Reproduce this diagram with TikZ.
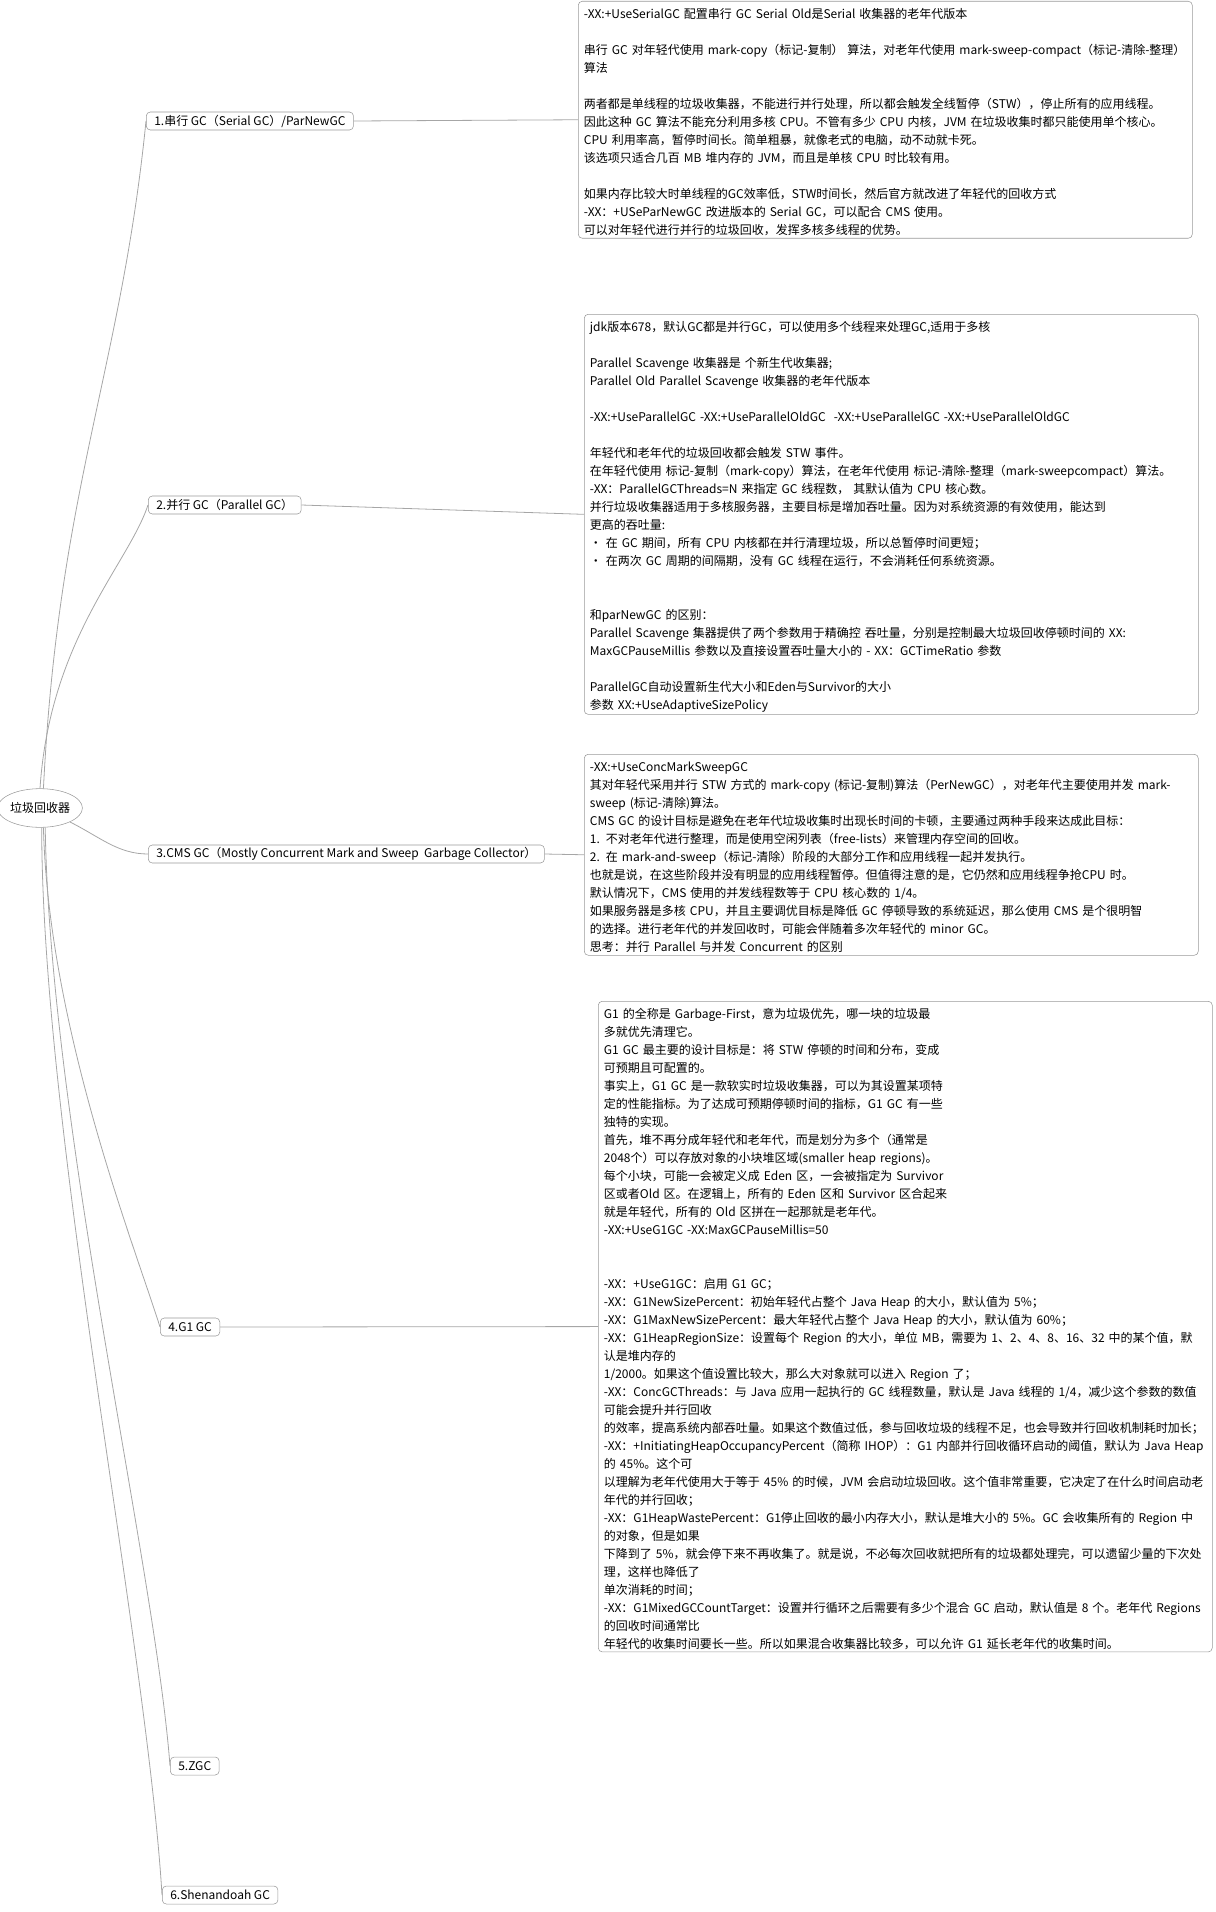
\documentclass[tikz,border=0pt]{standalone}
\usepackage{fontspec}
\setmainfont{Noto Sans CJK SC}
\usetikzlibrary{shapes.geometric,positioning}

\begin{document}
\begin{tikzpicture}[
        x=0.75pt, y=-0.75pt,
        every node/.style={font=\fontsize{9pt}{13.5pt}\selectfont},
        root/.style={ellipse, draw=gray!80, minimum width=59pt, minimum height=29pt, inner sep=0pt},
        topic/.style={rectangle, draw=gray!80, rounded corners=3pt, minimum height=13.5pt, inner xsep=6pt, inner ysep=0pt, anchor=west},
        note/.style={rectangle, draw=gray!80, rounded corners=3pt, text width=452pt, inner xsep=4.25pt, inner ysep=1.5pt, align=left, anchor=north west},
        link/.style={draw=gray!70, line width=0.6pt}
    ]
    \useasboundingbox (0,0) rectangle (1216,1912);

    % root and main branches
    \node[root] (root) at (40,808) {垃圾回收器};
    \node[topic] (serial) at (146,121) {1.串行 GC（Serial GC）/ParNewGC};
    \node[topic] (parallel) at (148,505) {2.并行 GC（Parallel GC）};
    \node[topic] (cms) at (148,854) {3.CMS GC（Mostly Concurrent Mark and Sweep\ \ Garbage Collector）};
    \node[topic] (gone) at (160,1327) {4.G1 GC};
    \node[topic] (zgc) at (170,1766) {5.ZGC};
    \node[topic] (shen) at (162,1895) {6.Shenandoah GC};

    % notes
    \node[note, minimum height=177.75pt] (serialnote) at (578,1) {%
        \rule{0pt}{11.5pt}-XX:+UseSerialGC 配置串行 GC Serial Old是Serial 收集器的老年代版本\\[13.5pt]
        串行 GC 对年轻代使用 mark-copy（标记-复制） 算法，对老年代使用 mark-sweep-compact（标记-清除-整理）\\
        算法\\[13.5pt]
        两者都是单线程的垃圾收集器，不能进行并行处理，所以都会触发全线暂停（STW），停止所有的应用线程。\\
        因此这种 GC 算法不能充分利用多核 CPU。不管有多少 CPU 内核，JVM 在垃圾收集时都只能使用单个核心。\\
        CPU 利用率高，暂停时间长。简单粗暴，就像老式的电脑，动不动就卡死。\\
        该选项只适合几百 MB 堆内存的 JVM，而且是单核 CPU 时比较有用。\\[13.5pt]
        如果内存比较大时单线程的GC效率低，STW时间长，然后官方就改进了年轻代的回收方式\\
        -XX：+USeParNewGC 改进版本的 Serial GC，可以配合 CMS 使用。\\
        可以对年轻代进行并行的垃圾回收，发挥多核多线程的优势。};

    \node[note, minimum height=297.75pt] (parallelnote) at (584,314) {%
        \rule{0pt}{11.5pt}jdk版本678，默认GC都是并行GC，可以使用多个线程来处理GC,适用于多核\\[13.5pt]
        Parallel Scavenge 收集器是 个新生代收集器;\\
        Parallel Old Parallel Scavenge 收集器的老年代版本\\[13.5pt]
        -XX:+UseParallelGC -XX:+UseParallelOldGC\ \ -XX:+UseParallelGC -XX:+UseParallelOldGC\\[13.5pt]
        年轻代和老年代的垃圾回收都会触发 STW 事件。\\
        在年轻代使用 标记-复制（mark-copy）算法，在老年代使用 标记-清除-整理（mark-sweepcompact）算法。\\
        -XX：ParallelGCThreads=N 来指定 GC 线程数， 其默认值为 CPU 核心数。\\
        并行垃圾收集器适用于多核服务器，主要目标是增加吞吐量。因为对系统资源的有效使用，能达到\\
        更高的吞吐量:\\
        • 在 GC 期间，所有 CPU 内核都在并行清理垃圾，所以总暂停时间更短；\\
        • 在两次 GC 周期的间隔期，没有 GC 线程在运行，不会消耗任何系统资源。\\[27pt]
        和parNewGC 的区别：\\
        Parallel Scavenge 集器提供了两个参数用于精确控 吞吐量，分别是控制最大垃圾回收停顿时间的 XX:\\
        MaxGCPauseMillis 参数以及直接设置吞吐量大小的 - XX：GCTimeRatio 参数\\[13.5pt]
        ParallelGC自动设置新生代大小和Eden与Survivor的大小\\
        参数 XX:+UseAdaptiveSizePolicy};

    \node[note, minimum height=150.75pt] (cmsnote) at (584,754) {%
        \rule{0pt}{11.5pt}-XX:+UseConcMarkSweepGC\\
        其对年轻代采用并行 STW 方式的 mark-copy (标记-复制)算法（PerNewGC），对老年代主要使用并发 mark-\\
        sweep (标记-清除)算法。\\
        CMS GC 的设计目标是避免在老年代垃圾收集时出现长时间的卡顿，主要通过两种手段来达成此目标：\\
        1. 不对老年代进行整理，而是使用空闲列表（free-lists）来管理内存空间的回收。\\
        2. 在 mark-and-sweep（标记-清除）阶段的大部分工作和应用线程一起并发执行。\\
        也就是说，在这些阶段并没有明显的应用线程暂停。但值得注意的是，它仍然和应用线程争抢CPU 时。\\
        默认情况下，CMS 使用的并发线程数等于 CPU 核心数的 1/4。\\
        如果服务器是多核 CPU，并且主要调优目标是降低 GC 停顿导致的系统延迟，那么使用 CMS 是个很明智\\
        的选择。进行老年代的并发回收时，可能会伴随着多次年轻代的 minor GC。\\
        思考：并行 Parallel 与并发 Concurrent 的区别};

    \node[note, minimum height=487.5pt] (gonenote) at (598,1001) {%
        \rule{0pt}{11.5pt}G1 的全称是 Garbage-First，意为垃圾优先，哪一块的垃圾最\\
        多就优先清理它。\\
        G1 GC 最主要的设计目标是：将 STW 停顿的时间和分布，变成\\
        可预期且可配置的。\\
        事实上，G1 GC 是一款软实时垃圾收集器，可以为其设置某项特\\
        定的性能指标。为了达成可预期停顿时间的指标，G1 GC 有一些\\
        独特的实现。\\
        首先，堆不再分成年轻代和老年代，而是划分为多个（通常是\\
        2048个）可以存放对象的小块堆区域(smaller heap regions)。\\
        每个小块，可能一会被定义成 Eden 区，一会被指定为 Survivor\\
        区或者Old 区。在逻辑上，所有的 Eden 区和 Survivor 区合起来\\
        就是年轻代，所有的 Old 区拼在一起那就是老年代。\\
        -XX:+UseG1GC -XX:MaxGCPauseMillis=50\\[27pt]
        -XX：+UseG1GC：启用 G1 GC；\\
        -XX：G1NewSizePercent：初始年轻代占整个 Java Heap 的大小，默认值为 5\%；\\
        -XX：G1MaxNewSizePercent：最大年轻代占整个 Java Heap 的大小，默认值为 60\%；\\
        -XX：G1HeapRegionSize：设置每个 Region 的大小，单位 MB，需要为 1、2、4、8、16、32 中的某个值，默\\
        认是堆内存的\\
        1/2000。如果这个值设置比较大，那么大对象就可以进入 Region 了；\\
        -XX：ConcGCThreads：与 Java 应用一起执行的 GC 线程数量，默认是 Java 线程的 1/4，减少这个参数的数值\\
        可能会提升并行回收\\
        的效率，提高系统内部吞吐量。如果这个数值过低，参与回收垃圾的线程不足，也会导致并行回收机制耗时加长；\\
        -XX：+InitiatingHeapOccupancyPercent（简称 IHOP）：G1 内部并行回收循环启动的阈值，默认为 Java Heap\\
        的 45\%。这个可\\
        以理解为老年代使用大于等于 45\% 的时候，JVM 会启动垃圾回收。这个值非常重要，它决定了在什么时间启动老\\
        年代的并行回收；\\
        -XX：G1HeapWastePercent：G1停止回收的最小内存大小，默认是堆大小的 5\%。GC 会收集所有的 Region 中\\
        的对象，但是如果\\
        下降到了 5\%，就会停下来不再收集了。就是说，不必每次回收就把所有的垃圾都处理完，可以遗留少量的下次处\\
        理，这样也降低了\\
        单次消耗的时间；\\
        -XX：G1MixedGCCountTarget：设置并行循环之后需要有多少个混合 GC 启动，默认值是 8 个。老年代 Regions\\
        的回收时间通常比\\
        年轻代的收集时间要长一些。所以如果混合收集器比较多，可以允许 G1 延长老年代的收集时间。};

    % branches from the root
    \draw[link] (root.80) .. controls +(15,-300) and +(-25,250) .. (serial.west);
    \draw[link] (root.north) .. controls +(10,-150) and +(-20,60) .. (parallel.west);
    \draw[link] (root.-25) .. controls +(30,15) and +(-30,0) .. (cms.west);
    \draw[link] (root.-80) .. controls +(5,200) and +(-25,-80) .. (gone.west);
    \draw[link] (root.-75) .. controls +(5,300) and +(-15,-200) .. (zgc.west);
    \draw[link] (root.-85) .. controls +(0,300) and +(-15,-250) .. (shen.west);

    % topics to notes
    \draw[link] (serial.east) -- (serialnote.west);
    \draw[link] (parallel.east) -- (parallelnote.west);
    \draw[link] (cms.east) -- (cmsnote.west);
    \draw[link] (gone.east) -- (gonenote.west);

\end{tikzpicture}
\end{document}
